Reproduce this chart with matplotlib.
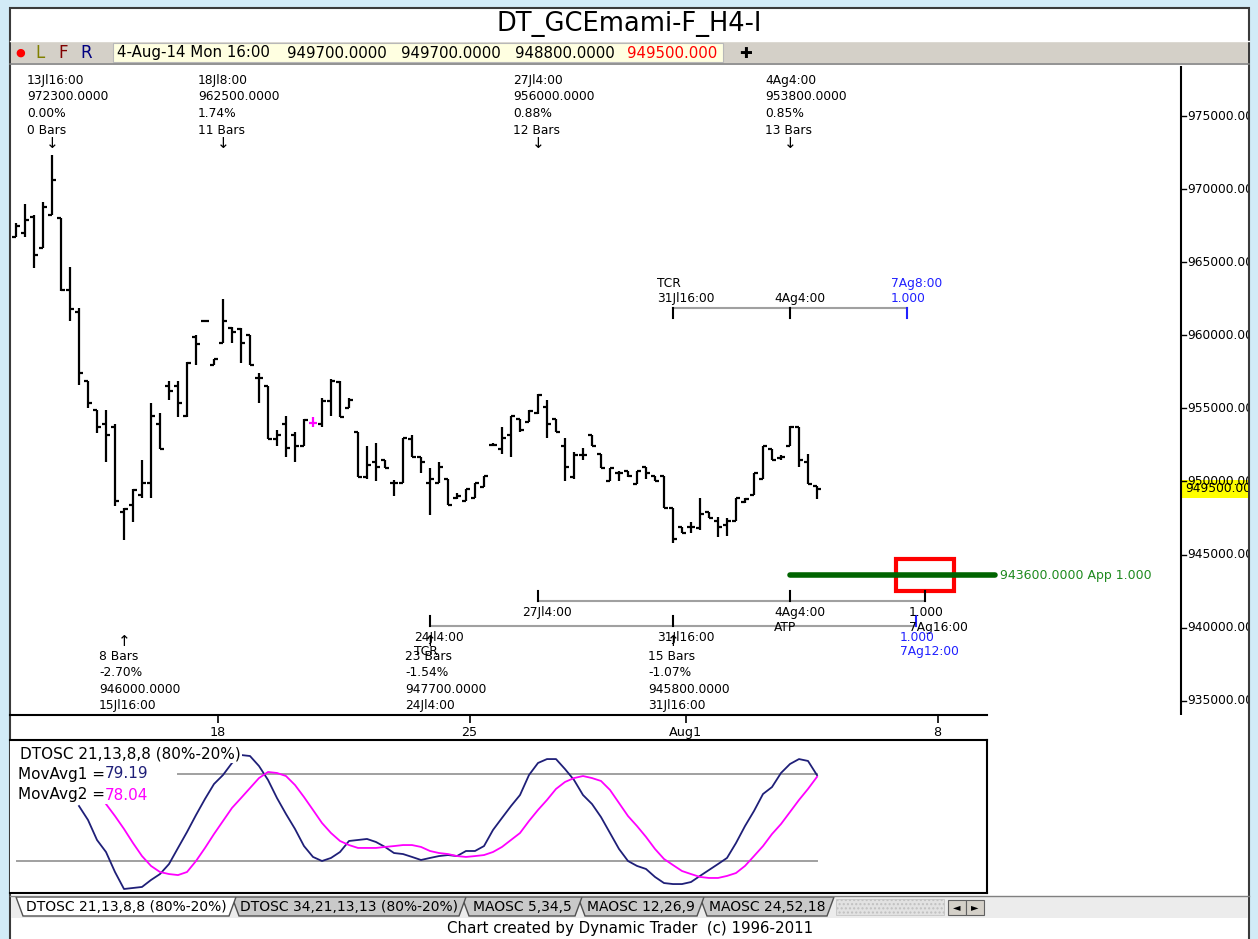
import matplotlib
matplotlib.use("Agg")
import matplotlib.pyplot as plt
from matplotlib.patches import Rectangle, Polygon

plt.rcParams['font.family'] = ['DejaVu Sans']

W, H = 1258, 939

# 4h bars, 13 Jul 2014 16:00 .. 4 Aug 2014 16:00
bar_open = [966700, 967000, 968100, 966000, 968200, 968000, 963100, 961600, 956900, 954900,
            953900, 953700, 947900, 948400, 949100, 949900, 953900, 956500, 956500, 954500,
            959900, 961000, 958000, 959500, 960500, 960400, 960000, 957100, 956500, 952900,
            953900, 953200, 952400, 954000, 953900, 955500, 956800, 955000, 953400, 950300,
            951300, 951500, 949900, 949900, 952900, 951700, 949900, 949900, 950200, 948900,
            948700, 948900, 949600, 952500, 952200, 953200, 954300, 954100, 954700, 955100,
            954300, 952400, 950300, 951800, 953200, 951900, 950000, 950600, 950700, 949800,
            951000, 950400, 950400, 948200, 946900, 946900, 946800, 947900, 947300, 947000,
            947300, 948600, 949100, 950200, 952200, 951600, 952400, 953700, 951300, 949700]
bar_high = [967700, 969000, 968200, 969100, 972300, 968000, 964700, 961900, 956900, 954900,
            954900, 953900, 948200, 949500, 951500, 955400, 954700, 956900, 956900, 958200,
            960000, 961000, 958400, 962500, 960600, 960500, 960000, 957400, 956500, 953500,
            954500, 953400, 954300, 954400, 955700, 957000, 956900, 955700, 953400, 952400,
            952600, 951500, 950100, 953000, 953200, 951700, 950900, 951300, 950200, 949200,
            949500, 949900, 950400, 952600, 953700, 954500, 954300, 954900, 956000, 955600,
            954300, 953000, 952000, 952300, 953200, 951900, 950900, 950700, 950700, 950700,
            951000, 950400, 950400, 948200, 946900, 947200, 948900, 947900, 947600, 947500,
            948900, 948900, 950600, 952400, 952200, 951800, 953800, 953700, 951900, 949700]
bar_low = [966700, 966700, 964600, 966000, 968200, 963000, 961000, 956600, 955000, 953300,
           951300, 948300, 946000, 947200, 948900, 948900, 952200, 955600, 954400, 954400,
           958000, 961000, 958000, 959500, 959500, 958100, 958000, 955400, 952900, 952400,
           951700, 951300, 952400, 953700, 953700, 954500, 954400, 955000, 950300, 950200,
           950000, 950900, 949000, 949900, 951700, 950600, 947700, 949900, 948400, 948800,
           948700, 948900, 949600, 952400, 951900, 951700, 953400, 954100, 954600, 953000,
           953400, 950000, 950200, 951500, 952400, 950900, 950000, 950000, 950300, 949800,
           950200, 950000, 948200, 945800, 946500, 946500, 946700, 947500, 946200, 946300,
           947300, 948500, 949100, 950200, 951500, 951500, 952400, 951000, 949800, 948800]
bar_close = [967500, 967900, 965500, 968800, 970600, 963100, 961800, 957400, 955400, 953700,
             953200, 948700, 948100, 949400, 949900, 954500, 952200, 956200, 955400, 958100,
             959400, 961000, 958400, 961000, 960200, 959500, 958000, 957100, 952900, 953200,
             952300, 952400, 954200, 954000, 955500, 956900, 954400, 955600, 950300, 951100,
             951000, 950900, 949900, 953000, 951700, 951300, 950200, 951000, 948400, 949000,
             949500, 949900, 950400, 952500, 953000, 954500, 953500, 954800, 955900, 953900,
             953400, 951000, 951800, 951800, 952400, 950900, 950900, 950600, 950400, 950700,
             950600, 950000, 948200, 946100, 946500, 946900, 947800, 947500, 946900, 947300,
             948900, 948800, 950600, 952400, 951500, 951700, 953700, 951500, 949800, 949500]
magenta_bar = 33

# DTOSC 21,13,8,8 (navy) and its moving average (magenta), one value per bar
osc_start = 7
osc_values = [57.9, 48.3, 34.5, 26.2, 12.4, 0.7, 1.4, 2.1, 6.9, 11.0,
              17.9, 29.0, 40.0, 51.7, 62.8, 73.1, 79.3, 87.6, 93.1, 92.4,
              85.5, 75.9, 63.4, 52.4, 42.1, 30.3, 22.8, 20.0, 22.1, 26.2,
              33.8, 34.5, 35.2, 33.1, 29.7, 25.5, 24.8, 22.8, 20.7, 22.1,
              23.4, 24.1, 23.4, 26.9, 26.9, 30.3, 41.4, 49.7, 57.9, 65.5,
              79.3, 87.6, 90.3, 90.3, 83.4, 75.9, 65.5, 59.3, 50.3, 39.3,
              28.3, 20.0, 16.6, 14.5, 9.0, 4.8, 4.1, 4.1, 5.5, 9.7,
              13.8, 17.9, 22.1, 32.4, 44.1, 54.5, 66.2, 71.0, 80.7, 86.9,
              90.3, 89.0, 79.19]
avg_start = 10
avg_values = [59.3, 51.0, 42.1, 32.4, 23.4, 16.6, 12.4, 11.0, 10.3, 12.4,
              20.0, 29.0, 38.6, 47.6, 56.6, 63.4, 70.3, 77.2, 81.4, 80.7,
              78.6, 72.4, 64.1, 55.2, 46.2, 39.3, 33.8, 31.0, 29.0, 29.0,
              29.0, 29.7, 30.3, 31.0, 31.0, 29.7, 26.9, 25.5, 24.8, 23.4,
              22.8, 23.4, 24.1, 26.2, 29.7, 34.5, 39.3, 47.6, 55.2, 62.1,
              69.7, 74.5, 77.2, 78.6, 77.2, 75.2, 69.0, 60.0, 51.0, 44.1,
              36.6, 28.3, 21.4, 17.2, 13.1, 11.0, 9.0, 8.3, 8.3, 9.7,
              11.7, 16.6, 23.4, 30.3, 38.6, 45.5, 53.8, 62.1, 69.7, 78.04]

date_ticks = [22.4, 50.4, 74.4, 102.4]
date_labels = ['18', '25', 'Aug1', '8']
price_ticks = list(range(935000, 975001, 5000))

# swing labels
top_bars = [4, 23, 58, 86]
top_labels = [['13Jl16:00', '972300.0000', '0.00%', '0 Bars'],
              ['18Jl8:00', '962500.0000', '1.74%', '11 Bars'],
              ['27Jl4:00', '956000.0000', '0.88%', '12 Bars'],
              ['4Ag4:00', '953800.0000', '0.85%', '13 Bars']]
low_bars = [12, 46, 73]
low_labels = [['8 Bars', '-2.70%', '946000.0000', '15Jl16:00'],
              ['23 Bars', '-1.54%', '947700.0000', '24Jl4:00'],
              ['15 Bars', '-1.07%', '945800.0000', '31Jl16:00']]

# time projections: bars, level, labels
tcr_bars = [73, 86, 99]
tcr_level = 961900
tcr_labels = ['TCR\n31Jl16:00', '4Ag4:00', '7Ag8:00\n1.000']
atp_bars = [58, 86, 101]
atp_level = 941800
atp_labels = ['27Jl4:00', '4Ag4:00\nATP', '1.000\n7Ag16:00']
tcr2_bars = [46, 73, 100]
tcr2_level = 940100
tcr2_labels = ['24Jl4:00\nTCR', '31Jl16:00', '1.000\n7Ag12:00']
app_price = 943600
app_label = '943600.0000 App 1.000'

tabs = ['DTOSC 21,13,8,8 (80%-20%)', 'DTOSC 34,21,13,13 (80%-20%)',
        'MAOSC 5,34,5', 'MAOSC 12,26,9', 'MAOSC 24,52,18']

# ---- layout helpers (pixels of the original screenshot) ----
def rect(x0, y0, x1, y1):
    return [x0 / W, 1 - y1 / H, (x1 - x0) / W, (y1 - y0) / H]

def bx(px):      # pixel x -> bar index
    return (px - 16) / 9.0

def pr(py):      # pixel y -> price
    return 975000 - (py - 116) * 68.4

def ov(py):      # pixel y -> oscillator value
    return 20 + (861 - py) / 1.45

NAVY = '#1f1f78'
MAG = '#ff00ff'
BLUE = '#2020ff'
FS = 8.8

fig = plt.figure(figsize=(W / 100, H / 100), dpi=100)
fig.patch.set_facecolor('#d2ebf7')

# ---- window chrome ----
bg = fig.add_axes([0, 0, 1, 1])
bg.set_xlim(0, W)
bg.set_ylim(H, 0)
bg.axis('off')
bg.add_patch(Rectangle((10, 8), 1239, 935, facecolor='white', edgecolor='#3a3a3a', lw=1.5))
bg.text(629, 24, 'DT_GCEmami-F_H4-I', ha='center', va='center', fontsize=18.5)
bg.add_patch(Rectangle((11, 41), 1237, 22, facecolor='#d4d0c8', edgecolor='none'))
bg.plot([10, 1249], [64, 64], color='#808080', lw=1.2)
bg.plot([10, 1249], [41, 41], color='#ffffff', lw=1)
bg.add_patch(Rectangle((113, 43), 610, 19, facecolor='#ffffe1', edgecolor='#b8b8b8', lw=0.8))
bg.text(20, 53, '●', color='red', fontsize=8, ha='center', va='center')
bg.text(40, 53, 'L', color='#808000', fontsize=12, ha='center', va='center')
bg.text(63, 53, 'F', color='#800000', fontsize=12, ha='center', va='center')
bg.text(86, 53, 'R', color='#000080', fontsize=12, ha='center', va='center')
info = [('4-Aug-14 Mon 16:00', 117, 'black'),
        ('%.4f' % bar_open[-1], 287, 'black'),
        ('%.4f' % bar_high[-1], 401, 'black'),
        ('%.4f' % bar_low[-1], 515, 'black'),
        ('%.3f' % bar_close[-1], 627, 'red')]
for s, x, c in info:
    bg.text(x, 53, s, color=c, fontsize=10.8, ha='left', va='center')
bg.text(745, 53, '✚', color='black', fontsize=11, ha='center', va='center')

# tabs
bg.add_patch(Rectangle((11, 896), 1237, 22, facecolor='#ececec', edgecolor='none'))
bg.plot([10, 1249], [896, 896], color='#808080', lw=1)
tab_x = [(16, 236), (232, 466), (462, 582), (578, 704), (700, 834)]
order = [4, 3, 2, 1, 0]
for k in order:
    x0, x1 = tab_x[k]
    fc = 'white' if k == 0 else '#c9c9c9'
    bg.add_patch(Polygon([(x0, 897), (x1, 897), (x1 - 7, 916), (x0 + 7, 916)],
                         closed=True, facecolor=fc, edgecolor='#505050', lw=1))
    bg.text((x0 + x1) / 2, 907, tabs[k], ha='center', va='center', fontsize=10)
bg.add_patch(Rectangle((836, 899), 108, 16, facecolor='#e2e2e2', edgecolor='#c0c0c0',
                       hatch='....', lw=0.5))
for x, s in [(948, '◄'), (966, '►')]:
    bg.add_patch(Rectangle((x, 900), 18, 15, facecolor='#d4d0c8', edgecolor='#606060', lw=0.8))
    bg.text(x + 9, 907.5, s, ha='center', va='center', fontsize=7)
bg.text(630, 929, 'Chart created by Dynamic Trader  (c) 1996-2011', ha='center', va='center',
        fontsize=10.8)

# ---- price panel ----
ax = fig.add_axes(rect(10, 66, 1248, 715))
ax.set_facecolor('none')
ax.set_xlim(bx(10), bx(1248))
ax.set_ylim(pr(715), pr(66))
for s in ax.spines.values():
    s.set_visible(False)
ax.set_yticks([])
ax.set_xticks(date_ticks)
ax.set_xticklabels(date_labels, fontsize=9.2)
ax.tick_params(axis='x', direction='out', length=6, width=1.2, pad=2)
ax.plot([0, (987 - 10) / 1238], [0, 0], transform=ax.transAxes, color='black', lw=1.5,
        clip_on=False)

def mfrac(py):
    return (715 - py) / (715 - 66)

n = len(bar_open)
for i in range(n):
    c = MAG if i == magenta_bar else 'black'
    ax.plot([i, i], [bar_low[i], bar_high[i]], color=c, lw=1.6, solid_capstyle='butt')
    ax.plot([i - 0.42, i], [bar_open[i], bar_open[i]], color=c, lw=1.6, solid_capstyle='butt')
    ax.plot([i, i + 0.42], [bar_close[i], bar_close[i]], color=c, lw=1.6, solid_capstyle='butt')

xt = ax.get_xaxis_transform()
for i, lines in zip(top_bars, top_labels):
    ax.annotate('\n'.join(lines), xy=(i, mfrac(74)), xycoords=xt, xytext=(-25, 0),
                textcoords='offset pixels', ha='left', va='top', fontsize=FS, linespacing=1.35)
    ax.annotate('↓', xy=(i, mfrac(144)), xycoords=xt, ha='center', va='center', fontsize=11)
for i, lines in zip(low_bars, low_labels):
    ax.annotate('\n'.join(lines), xy=(i, mfrac(650)), xycoords=xt, xytext=(-25, 0),
                textcoords='offset pixels', ha='left', va='top', fontsize=FS, linespacing=1.35)
    ax.annotate('↑', xy=(i, mfrac(642)), xycoords=xt, ha='center', va='center', fontsize=11)

# time projection brackets
tick_h = 10 * 68.4
def bracket(bars, level, labels, up, colors):
    ax.plot([bars[0], bars[-1]], [level, level], color='#a0a0a0', lw=1.5)
    for b, s, c in zip(bars, labels, colors):
        d = tick_h if up else -tick_h
        ax.plot([b, b], [level, level + d], color=c, lw=1.5)
        if up:
            ax.annotate(s, xy=(b, level), xytext=(-16, -5), textcoords='offset pixels',
                        ha='left', va='top', fontsize=FS, color=c, linespacing=1.12)
        else:
            ax.annotate(s, xy=(b, level), xytext=(-16, 3), textcoords='offset pixels',
                        ha='left', va='bottom', fontsize=FS, color=c, linespacing=1.12)

bracket(tcr_bars, tcr_level, tcr_labels, False, ['black', 'black', BLUE])
bracket(atp_bars, atp_level, atp_labels, True, ['black', 'black', 'black'])
bracket(tcr2_bars, tcr2_level, tcr2_labels, True, ['black', 'black', BLUE])

# price projection line and target box
app_end = bx(995)
ax.plot([atp_bars[1], app_end], [app_price, app_price], color='#006400', lw=4,
        solid_capstyle='round')
ax.annotate(app_label, xy=(app_end, app_price), xytext=(5, 0), textcoords='offset pixels',
            ha='left', va='center', fontsize=9, color='#1e8a1e')
ax.add_patch(Rectangle((atp_bars[2] - 29 / 9, app_price - 16 * 68.4), 58 / 9, 32 * 68.4,
                       facecolor='none', edgecolor='red', lw=3))

# price scale
xa = (1181 - 10) / 1238
yt = ax.get_yaxis_transform()
ax.plot([xa, xa], [0, 1], transform=ax.transAxes, color='black', lw=1.5)
for p in price_ticks:
    ax.plot([xa, xa + 5 / 1238], [p, p], transform=yt, color='black', lw=1)
    ax.text(xa + 6 / 1238, p, '%.2f' % p, transform=yt, ha='left', va='center',
            fontsize=FS, clip_on=True)
last = bar_close[-1]
ax.add_patch(Rectangle((xa, last - 9 * 68.4), 1 - xa, 18 * 68.4, transform=yt,
                       facecolor='#ffff00', edgecolor='none', clip_on=True))
ax.text(xa + 4 / 1238, last, '%.2f' % last, transform=yt, ha='left', va='center',
        fontsize=FS, clip_on=True)

# ---- oscillator panel ----
ax2 = fig.add_axes(rect(10, 740, 987, 893))
ax2.set_facecolor('white')
ax2.set_xlim(bx(10), bx(987))
ax2.set_ylim(ov(893), ov(740))
ax2.set_xticks([])
ax2.set_yticks([])
ax2.spines['left'].set_visible(False)
for s in ['top', 'right', 'bottom']:
    ax2.spines[s].set_linewidth(1.5)

ax2.plot([bx(178), n - 1], [80, 80], color='#a0a0a0', lw=1.4)
ax2.plot([bx(17), n - 1], [20, 20], color='#a0a0a0', lw=1.4)
ax2.plot(range(osc_start, osc_start + len(osc_values)), osc_values, color=NAVY, lw=1.3)
ax2.plot(range(avg_start, avg_start + len(avg_values)), avg_values, color=MAG, lw=1.3)

def ofx(px):
    return (px - 10) / 977

def ofy(py):
    return (893 - py) / 153

box = dict(facecolor='white', edgecolor='none', pad=1)
ax2.text(ofx(20), ofy(754), 'DTOSC 21,13,8,8 (80%-20%)', transform=ax2.transAxes,
         ha='left', va='center', fontsize=11, bbox=box)
t1 = ax2.text(ofx(18), ofy(774), 'MovAvg1 =', transform=ax2.transAxes,
              ha='left', va='center', fontsize=11, bbox=box)
ax2.annotate('%.2f' % osc_values[-1], xy=(1, 0.5), xycoords=t1, ha='left', va='center',
             fontsize=11, color=NAVY, bbox=box)
t2 = ax2.text(ofx(18), ofy(795), 'MovAvg2 =', transform=ax2.transAxes,
              ha='left', va='center', fontsize=11, bbox=box)
ax2.annotate('%.2f' % avg_values[-1], xy=(1, 0.5), xycoords=t2, ha='left', va='center',
             fontsize=11, color=MAG, bbox=box)

fig.savefig('out.png', dpi=100, facecolor=fig.get_facecolor())
